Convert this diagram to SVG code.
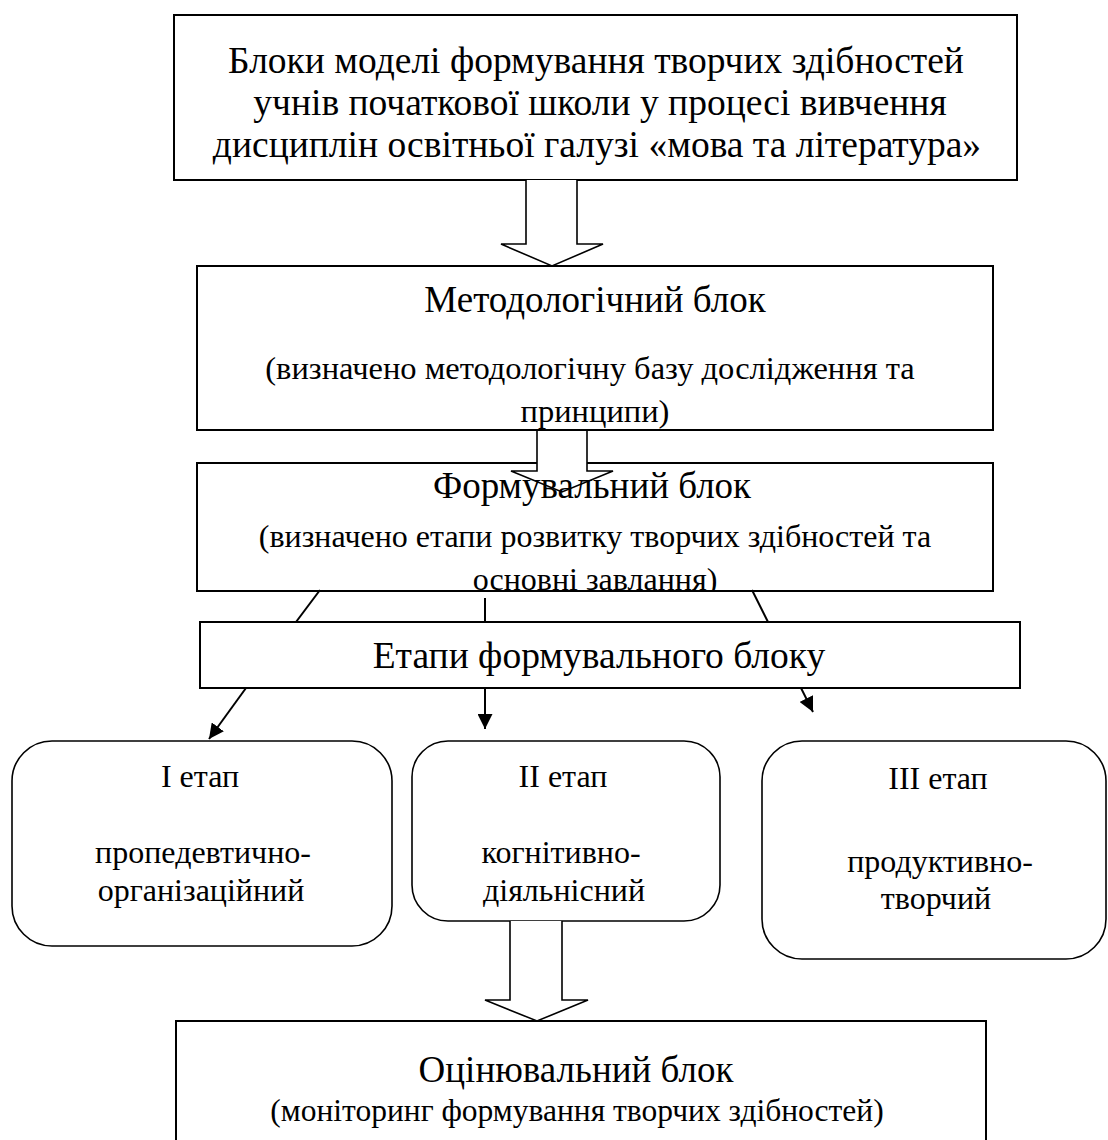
<svg xmlns="http://www.w3.org/2000/svg" width="1108" height="1140" viewBox="0 0 1108 1140">
<style>
.box{fill:#fff;stroke:#000;stroke-width:2}
.rbox{fill:#fff;stroke:#000;stroke-width:1.6}
.t{font-family:"Liberation Serif","Times New Roman",serif;fill:#000;text-anchor:middle}
.ln{stroke:#000;stroke-width:2;fill:none}
.blk{fill:#fff;stroke:#000;stroke-width:1.6}
.blko{fill:none;stroke:#000;stroke-width:1.6}
</style>
<defs>
<marker id="ah" viewBox="0 0 10 10" refX="10" refY="5" markerWidth="7.5" markerHeight="7.5" markerUnits="strokeWidth" orient="auto">
<path d="M0,0 L10,5 L0,10 z" fill="#000"/>
</marker>
<clipPath id="c3"><rect x="197" y="463" width="796" height="127"/></clipPath>
<clipPath id="c2"><rect x="197" y="266" width="796" height="163"/></clipPath>
</defs>
<g id="n1">
<rect class="box" x="174" y="15" width="843" height="165"/>
<text class="t" font-size="37.5" x="596" y="73">Блоки моделі формування творчих здібностей</text>
<text class="t" font-size="37.5" x="600" y="115">учнів початкової школи у процесі вивчення</text>
<text class="t" font-size="37.5" x="597" y="157">дисциплін освітньої галузі «мова та література»</text>
</g>
<g id="n2">
<rect class="box" x="197" y="266" width="796" height="164"/>
<text class="t" font-size="37" x="595" y="312">Методологічний блок</text>
<g clip-path="url(#c2)">
<text class="t" font-size="32.5" x="590" y="379">(визначено методологічну базу дослідження та</text>
<text class="t" font-size="32.5" x="595" y="422">принципи)</text>
</g>
</g>
<g id="n3">
<path class="box" d="M537,463 H197 V591 H993 V463 H587" stroke-width="2.5"/>
<text class="t" font-size="37" x="592" y="498">Формувальний блок</text>
<g clip-path="url(#c3)">
<text class="t" font-size="32" x="595" y="547">(визначено етапи розвитку творчих здібностей та</text>
<text class="t" font-size="32" x="595" y="590">основні завлання)</text>
</g>
</g>
<g id="n4">
<rect class="box" x="200" y="622" width="820" height="66"/>
<text class="t" font-size="37.5" x="599" y="668">Етапи формувального блоку</text>
</g>
<g id="s1">
<rect class="rbox" x="12" y="741" width="380" height="205" rx="40" ry="40"/>
<text class="t" font-size="32" x="200" y="787">I етап</text>
<text class="t" font-size="32" x="203" y="863">пропедевтично-</text>
<text class="t" font-size="32" x="201" y="901">організаційний</text>
</g>
<g id="s2">
<rect class="rbox" x="412" y="741" width="308" height="180" rx="36" ry="36"/>
<text class="t" font-size="32" x="563" y="787">II етап</text>
<text class="t" font-size="32" x="561" y="863">когнітивно-</text>
<text class="t" font-size="32" x="564" y="901">діяльнісний</text>
</g>
<g id="s3">
<rect class="rbox" x="762" y="741" width="344" height="218" rx="40" ry="40"/>
<text class="t" font-size="32" x="938" y="789">III етап</text>
<text class="t" font-size="32" x="940" y="872">продуктивно-</text>
<text class="t" font-size="32" x="936" y="909">творчий</text>
</g>
<g id="n5">
<rect class="box" x="176" y="1021" width="810" height="131"/>
<text class="t" font-size="37" x="576" y="1082">Оцінювальний блок</text>
<text class="t" font-size="31.5" x="577" y="1121">(моніторинг формування творчих здібностей)</text>
</g>
<g id="connectors">
<path class="blk" d="M526,180 V244 H501 L552,266 L603,244 H577 V180"/>
<path class="blko" d="M537,430 V471 H511 L562,492 L613,471 H587 V430"/>
<path class="blk" d="M510,921 V1000 H485 L537,1021 L588,1000 H562 V921"/>
<line class="ln" x1="320" y1="590" x2="296" y2="622"/>
<line class="ln" x1="485" y1="598" x2="485" y2="621"/>
<line class="ln" x1="752" y1="590" x2="768" y2="622"/>
<line class="ln" x1="246" y1="688" x2="209" y2="739" marker-end="url(#ah)"/>
<line class="ln" x1="485" y1="688" x2="485" y2="729" marker-end="url(#ah)"/>
<line class="ln" x1="801" y1="688" x2="813" y2="712" marker-end="url(#ah)"/>
</g>
</svg>
